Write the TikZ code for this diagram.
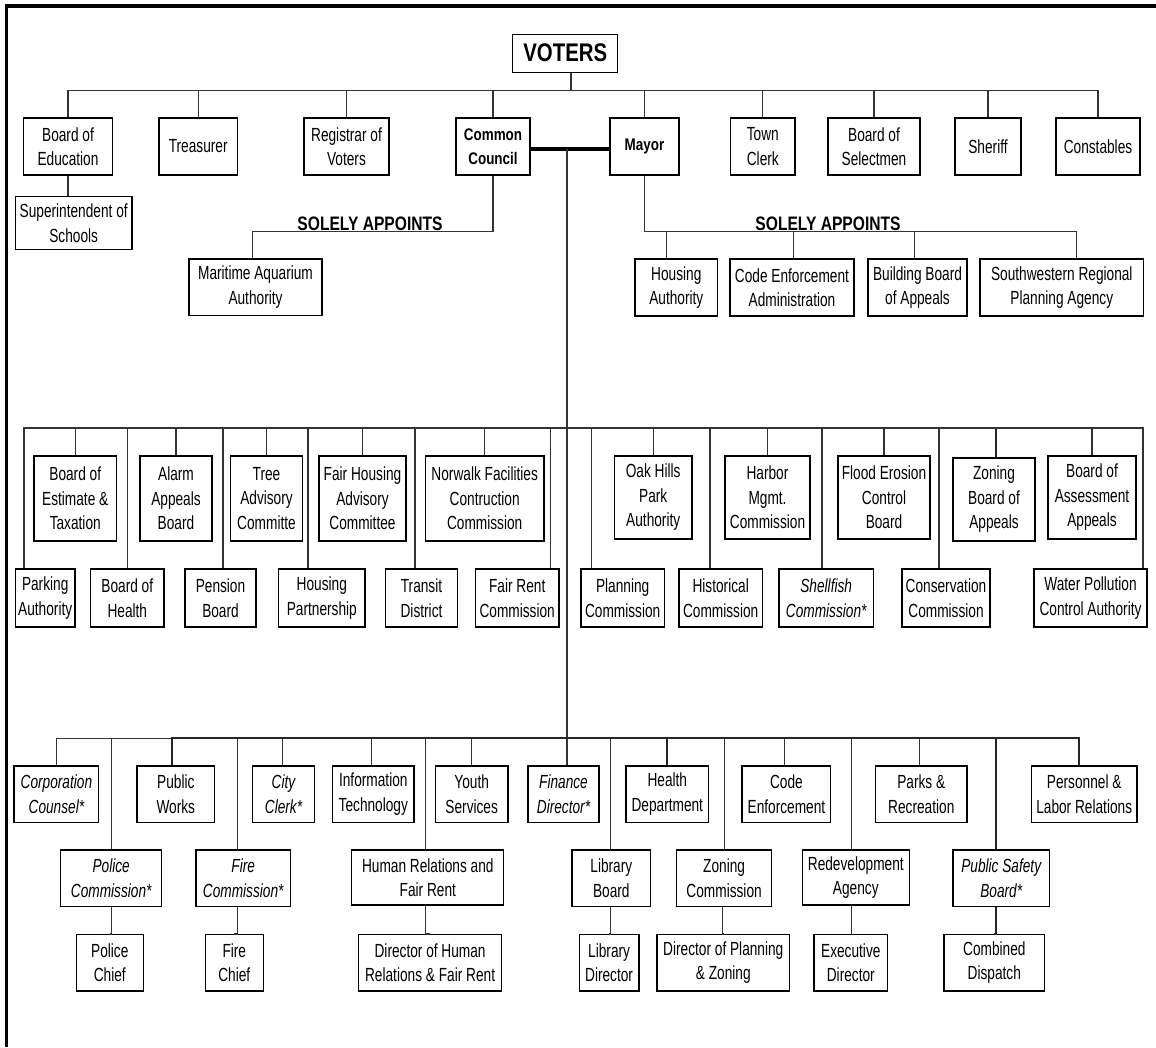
\documentclass[tikz,border=0pt]{standalone}
\usepackage{fontspec}
\setmainfont{Liberation Sans}[FakeStretch=0.72]
\newfontface\headfont{Liberation Sans Bold}[FakeStretch=0.8]

\begin{document}
\begin{tikzpicture}[x=1pt,y=-1pt,
  unit/.style={
    draw, line width=1.3pt, align=center, inner sep=0pt,
    minimum height=57,
    font=\fontsize{19}{24.5}\selectfont,
  },
  starred/.style={unit, font=\fontsize{19}{24.5}\selectfont\itshape},
  chief/.style={unit, font=\headfont\fontsize{16.8}{24}\selectfont},
  appoint/.style={anchor=base, inner sep=0pt, font=\headfont\fontsize{19.5}{22}\selectfont},
  link/.style={draw=black!80, line width=1.2pt},
  heavy link/.style={draw=black!85, line width=2pt},
  ]
  \useasboundingbox (0,0) rectangle (1156,1047);
  \fill[white] (0,0) rectangle (1156,1047);
  \draw[line width=3.3pt] (6.5,1047) -- (6.5,6) -- (1156,6);

  \node[unit, minimum width=105, minimum height=38, font=\headfont\fontsize{25.5}{30}\selectfont] (V) at (565.3,53.2) {VOTERS};
  \coordinate (T) at (571,90.3);

  \node[unit, minimum width=89.5] (BE) at (68,146.5) {Board of\\Education};
  \node[unit, minimum width=78.5] (TR) at (198.2,146.5) {Treasurer};
  \node[unit, minimum width=85] (RV) at (346.5,146.5) {Registrar of\\Voters};
  \node[chief, minimum width=74] (CC) at (493,146.5) {Common\\Council};
  \node[chief, minimum width=69] (MA) at (644.5,146.5) {Mayor};
  \node[unit, minimum width=64.3] (TC) at (762.8,146.5) {Town\\Clerk};
  \node[unit, minimum width=92] (BS) at (874,146.5) {Board of\\Selectmen};
  \node[unit, minimum width=66] (SH) at (988,146.5) {Sheriff};
  \node[unit, minimum width=84] (CO) at (1098,146.5) {Constables};

  \node[unit, minimum width=116.5, minimum height=52.6] (SS) at (73.7,223) {Superintendent of\\Schools};
  \node[unit, minimum width=133, minimum height=56.7] (MAA) at (255.5,287.3) {Maritime Aquarium\\Authority};
  \node[unit, minimum width=82.6] (HA) at (676.3,287.5) {Housing\\Authority};
  \node[unit, minimum width=124] (CEA) at (792,287.5) {Code Enforcement\\Administration};
  \node[unit, minimum width=99] (BBA) at (917.5,287.5) {Building Board\\of Appeals};
  \node[unit, minimum width=163.6] (SRPA) at (1061.8,287.5) {Southwestern Regional\\Planning Agency};
  \node[appoint] (L1) at (370,230) {SOLELY APPOINTS};
  \node[appoint] (L2) at (828,230) {SOLELY APPOINTS};

  \draw[link] (V.south -| T) -- (T);
  \foreach \n in {BE,TR,RV,CC,MA,TC,BS,SH,CO}
    \draw[link] (\n.north) |- (T);
  \draw[link] (BE.south) -- (BE.south |- SS.north);
  \draw[link] (CC.south) -- ++(0,56) -| ([xshift=-2.8]MAA.north);
  \draw[link] (MA.south) -- ++(0,56) coordinate (M);
  \foreach \n/\s in {HA/-10,CEA/1.5,BBA/-3,SRPA/15}
    \draw[link] ([xshift=\s]\n.north) |- (M);

  \coordinate (K) at (567,149);
  \coordinate (H) at (567,428);
  \coordinate (B) at (567,738.3);
  \draw[line width=3.3pt] ([yshift=-2.5]CC.east) -- ([yshift=-2.5]MA.west);
  \draw[link] (K) -- (B);

  \node[unit, minimum width=82.5, minimum height=85] (BET) at (75.25,498.5) {Board of\\Estimate \&\\Taxation};
  \node[unit, minimum width=72, minimum height=85] (AAB) at (176,498.5) {Alarm\\Appeals\\Board};
  \node[unit, minimum width=72, minimum height=85] (TAC) at (266.5,498.5) {Tree\\Advisory\\Committe};
  \node[unit, minimum width=87, minimum height=85] (FHAC) at (362.5,498.5) {Fair Housing\\Advisory\\Committee};
  \node[unit, minimum width=118.5, minimum height=85] (NFCC) at (484.7,498.5) {Norwalk Facilities\\Contruction\\Commission};
  \node[unit, minimum width=77.5, minimum height=83] (OHPA) at (653.2,497.5) {Oak Hills\\Park\\Authority};
  \node[unit, minimum width=85, minimum height=83] (HMC) at (767.5,497.5) {Harbor\\Mgmt.\\Commission};
  \node[unit, minimum width=92, minimum height=83] (FECB) at (884,497.5) {Flood Erosion\\Control\\Board};
  \node[unit, minimum width=82, minimum height=83] (ZBA) at (994,499.5) {Zoning\\Board of\\Appeals};
  \node[unit, minimum width=88, minimum height=83] (BAA) at (1092,497.5) {Board of\\Assessment\\Appeals};

  \node[unit, minimum width=59.5, minimum height=58] (PA) at (45.2,598) {Parking\\Authority};
  \node[unit, minimum width=73.4, minimum height=58] (BH) at (127.3,598) {Board of\\Health};
  \node[unit, minimum width=71, minimum height=58] (PB) at (220.5,598) {Pension\\Board};
  \node[unit, minimum width=86.4, minimum height=58] (HP) at (321.8,598) {Housing\\Partnership};
  \node[unit, minimum width=72, minimum height=58] (TD) at (421.5,598) {Transit\\District};
  \node[unit, minimum width=83.6, minimum height=58] (FRC) at (517.2,598) {Fair Rent\\Commission};
  \node[unit, minimum width=83.5, minimum height=58] (PC) at (622.7,598) {Planning\\Commission};
  \node[unit, minimum width=83.4, minimum height=58] (HC) at (720.7,598) {Historical\\Commission};
  \node[starred, minimum width=94.4, minimum height=58] (SC) at (826.2,598) {Shellfish\\Commission*};
  \node[unit, minimum width=88, minimum height=58] (CNC) at (946,598) {Conservation\\Commission};
  \node[unit, minimum width=113, minimum height=58] (WPCA) at (1090.5,598) {Water Pollution\\Control Authority};

  \foreach \n in {BET,AAB,TAC,FHAC,NFCC,OHPA,HMC,FECB,BAA}
    \draw[link] (\n.north) |- (H);
  \draw[heavy link] ([xshift=2]ZBA.north) |- (H);
  \foreach \n/\s in {PA/-21.2,BH/0,PB/2.5,HP/-13.8,TD/-6.5,FRC/33.3,PC/-31,HC/-10.7,SC/-4.2,CNC/-7,WPCA/52.5}
    \draw[link] ([xshift=\s]\n.north) |- (H);

  \node[starred, minimum width=84.8, minimum height=56.7] (CCo) at (56.4,794.3) {Corporation\\Counsel*};
  \node[unit, minimum width=77.6, minimum height=56.7] (PW) at (175.8,794.3) {Public\\Works};
  \node[starred, minimum width=62.5, minimum height=56.7] (CiC) at (283.5,794.3) {City\\Clerk*};
  \node[unit, minimum width=81.4, minimum height=56.7] (IT) at (373.3,794.3) {Information\\Technology};
  \node[unit, minimum width=72.6, minimum height=56.7] (YS) at (471.7,794.3) {Youth\\Services};
  \node[starred, minimum width=71, minimum height=56.7] (FD) at (563.5,794.3) {Finance\\Director*};
  \node[unit, minimum width=82.6, minimum height=56.7] (HD) at (667.3,794.3) {Health\\Department};
  \node[unit, minimum width=88.8, minimum height=56.7] (CE) at (786.4,794.3) {Code\\Enforcement};
  \node[unit, minimum width=91.3, minimum height=56.7] (PR) at (921.3,794.3) {Parks \&\\Recreation};
  \node[unit, minimum width=105.5, minimum height=56.7] (PLR) at (1084.2,794.3) {Personnel \&\\Labor Relations};

  \node[starred, minimum width=101, minimum height=56.7] (PoC) at (111.2,878.3) {Police\\Commission*};
  \node[starred, minimum width=94.4, minimum height=56.7] (FiC) at (243.2,878.3) {Fire\\Commission*};
  \node[unit, minimum width=152, minimum height=55] (HRFR) at (427.8,877.5) {Human Relations and\\Fair Rent};
  \node[unit, minimum width=78.7, minimum height=56.7] (LB) at (611.3,878.3) {Library\\Board};
  \node[unit, minimum width=95.3, minimum height=56.7] (ZC) at (724.1,878.3) {Zoning\\Commission};
  \node[unit, minimum width=107, minimum height=55] (RA) at (855.8,877.5) {Redevelopment\\Agency};
  \node[starred, minimum width=96.5, minimum height=56.7] (PSB) at (1001.2,878.3) {Public Safety\\Board*};

  \node[unit, minimum width=67.3, minimum height=56.3] (PCh) at (109.8,962.8) {Police\\Chief};
  \node[unit, minimum width=58.1, minimum height=56.3] (FCh) at (234.3,962.8) {Fire\\Chief};
  \node[unit, minimum width=143.2, minimum height=56.3] (DHR) at (430.1,962.8) {Director of Human\\Relations \& Fair Rent};
  \node[unit, minimum width=59.7, minimum height=56.3] (LD) at (609.1,962.8) {Library\\Director};
  \node[unit, minimum width=132.7, minimum height=56.3] (DPZ) at (723.3,962.8) {Director of Planning\\\& Zoning};
  \node[unit, minimum width=73.6, minimum height=56.3] (ED) at (850.8,962.8) {Executive\\Director};
  \node[unit, minimum width=100.6, minimum height=56.3] (CD) at (994.3,962.8) {Combined\\Dispatch};

  \foreach \n/\s in {CCo/0,CiC/-1.2,IT/-1.9,YS/0,FD/3.5,CE/-1.9,PR/-1.5,PoC/0,FiC/-5.7,HRFR/-2.3,LB/-0.9,ZC/0,RA/-4.4}
    \draw[link] ([xshift=\s]\n.north) |- (B);
  \foreach \n/\s in {PW/-3.4,HD/0,PLR/-5.2,PSB/-5.2}
    \draw[heavy link] ([xshift=\s]\n.north) |- (B);

  \foreach \a/\b/\s in {PoC/PCh/0,FiC/FCh/-5.7,HRFR/DHR/-2.3,LB/LD/-1.2,ZC/DPZ/-1.3,RA/ED/-4.4}
    \draw[link] ([xshift=\s]\a.south) |- (\b.north);
  \draw[heavy link] ([xshift=-5.2]PSB.south) |- (CD.north);
\end{tikzpicture}
\end{document}
